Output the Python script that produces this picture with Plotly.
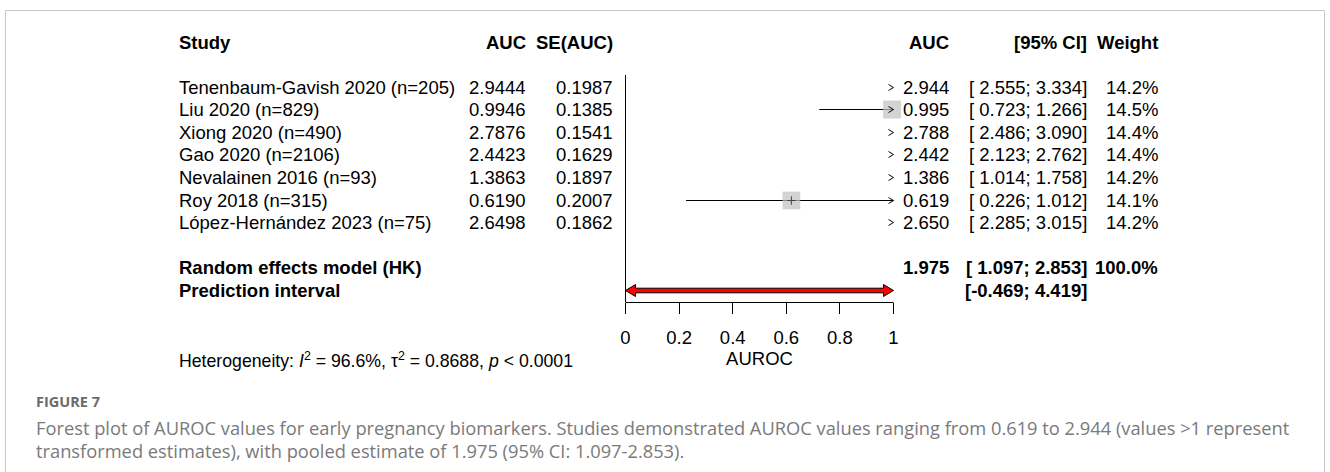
import math
import plotly.graph_objects as go

# ---------------- data ----------------
studies = ["Tenenbaum-Gavish 2020 (n=205)", "Liu 2020 (n=829)", "Xiong 2020 (n=490)",
           "Gao 2020 (n=2106)", "Nevalainen 2016 (n=93)", "Roy 2018 (n=315)",
           "López-Hernández 2023 (n=75)"]
auc = [2.9444, 0.9946, 2.7876, 2.4423, 1.3863, 0.6190, 2.6498]
se_auc = [0.1987, 0.1385, 0.1541, 0.1629, 0.1897, 0.2007, 0.1862]
ci_low = [2.555, 0.723, 2.486, 2.123, 1.014, 0.226, 2.285]
ci_high = [3.334, 1.266, 3.090, 2.762, 1.758, 1.012, 3.015]
weights = [14.2, 14.5, 14.4, 14.4, 14.2, 14.1, 14.2]
re_label = "Random effects model (HK)"
re_est, re_low, re_high, re_weight = 1.975, 1.097, 2.853, 100.0
pi_label = "Prediction interval"
pi_low, pi_high = -0.469, 4.419
x_ticks = [0, 0.2, 0.4, 0.6, 0.8, 1]
x_ticklabels = ["0", "0.2", "0.4", "0.6", "0.8", "1"]
x_title = "AUROC"
het_i2, het_tau2, het_p = "96.6%", "0.8688", "0.0001"
fig_label = "FIGURE 7"
caption_lines = [
    "Forest plot of AUROC values for early pregnancy biomarkers. Studies demonstrated AUROC values ranging from 0.619 to 2.944 (values >1 represent",
    "transformed estimates), with pooled estimate of 1.975 (95% CI: 1.097-2.853).",
]

# ---------------- layout constants (pixels) ----------------
W, H = 1330, 472
FONT = "Liberation Sans, Arial, sans-serif"
FS = 18.5
X0_PX, X1_PX = 625.5, 893.5      # pixel of value 0 and value 1
XMIN, XMAX = x_ticks[0], x_ticks[-1]
PAD = 0.02
UNIT = (X1_PX - X0_PX) / (XMAX - XMIN)
HEADER_Y = 42
ROW0_Y, ROW_DY = 87, 22.6
AXIS_Y = 302
COL_STUDY = 177
COL_AUC = 528
COL_SE = 615
COL_EST = 951
COL_CI = 1089
COL_W = 1160


def crisp(v):
    return math.floor(v) + 0.5


def clip(v):
    return min(max(v, XMIN), XMAX)


row_y = [ROW0_Y + i * ROW_DY for i in range(len(studies))]
re_y = ROW0_Y + (len(studies) + 1) * ROW_DY
pi_y = re_y + ROW_DY

fig = go.Figure()

# reference line at 0
fig.add_trace(go.Scatter(x=[0, 0], y=[ROW0_Y - 12, AXIS_Y], mode="lines",
                         line=dict(color="black", width=1), hoverinfo="skip"))
# axis line
fig.add_trace(go.Scatter(x=[XMIN, XMAX], y=[crisp(AXIS_Y), crisp(AXIS_Y)], mode="lines",
                         line=dict(color="black", width=1), hoverinfo="skip"))

# CI shafts
for lo, hi, y in zip(ci_low, ci_high, row_y):
    a, b = clip(lo), clip(hi)
    if b > a:
        fig.add_trace(go.Scatter(x=[a, b], y=[crisp(y), crisp(y)], mode="lines",
                                 line=dict(color="black", width=1), hoverinfo="skip"))

# squares (only inside the axis range)
maxw = max(weights)
SQ = 18
sq_x, sq_y, sq_s, in_x, in_y = [], [], [], [], []
for est, w, y in zip(auc, weights, row_y):
    if XMIN <= est <= XMAX:
        s = SQ * (w / maxw) ** 0.5
        sq_x.append(est); sq_y.append(crisp(y)); sq_s.append(s)
        if est < XMAX - (s / 2 + 4) / UNIT:
            in_x.append(est); in_y.append(crisp(y))
fig.add_trace(go.Scatter(x=sq_x, y=sq_y, mode="markers", cliponaxis=False,
                         marker=dict(symbol="square", size=sq_s, color="#c0c0c0",
                                     line=dict(width=0)), hoverinfo="skip"))
# inside mark of the square
fig.add_trace(go.Scatter(x=in_x, y=in_y, mode="markers", cliponaxis=False,
                         marker=dict(symbol="cross-thin", size=6,
                                     line=dict(color="#444444", width=1)), hoverinfo="skip"))

# arrowheads for clipped CIs
HL = 5 / UNIT
HH = 3
for lo, hi, y in zip(ci_low, ci_high, row_y):
    yc = crisp(y)
    if hi > XMAX:
        fig.add_trace(go.Scatter(x=[XMAX - HL, XMAX, XMAX - HL], y=[yc - HH, yc, yc + HH],
                                 mode="lines", line=dict(color="black", width=1),
                                 hoverinfo="skip"))
    if lo < XMIN:
        fig.add_trace(go.Scatter(x=[XMIN + HL, XMIN, XMIN + HL], y=[yc - HH, yc, yc + HH],
                                 mode="lines", line=dict(color="black", width=1),
                                 hoverinfo="skip"))

# prediction interval double arrow (red polygon)
a, b = clip(pi_low), clip(pi_high)
hl = 10 / UNIT
hh, sh = 6, 2.3
py0 = crisp(pi_y)
px = [a, a + hl, a + hl, b - hl, b - hl, b, b - hl, b - hl, a + hl, a + hl, a]
py = [py0, py0 - hh, py0 - sh, py0 - sh, py0 - hh, py0, py0 + hh, py0 + sh,
      py0 + sh, py0 + hh, py0]
fig.add_trace(go.Scatter(x=px, y=py, mode="lines", fill="toself", fillcolor="#ff0000",
                         line=dict(color="black", width=1), hoverinfo="skip"))

# ---------------- texts ----------------
ann = []


def txt(x, y, s, anchor="left", bold=False, size=FS, color="black", font=FONT):
    if bold:
        s = "<b>" + s + "</b>"
    ann.append(dict(x=x / W, y=y, xref="paper", yref="y", text=s, showarrow=False,
                    xanchor=anchor, yanchor="middle",
                    font=dict(family=font, size=size, color=color)))


def fmt_ci(lo, hi):
    def f(v):
        s = f"{v:.3f}"
        return s if v < 0 else "\u00a0" + s
    return f"[{f(lo)};{f(hi)}]"


txt(COL_STUDY, HEADER_Y, "Study", bold=True)
txt(COL_AUC, HEADER_Y, "AUC", "right", bold=True)
txt(COL_SE, HEADER_Y, "SE(AUC)", "right", bold=True)
txt(COL_EST, HEADER_Y, "AUC", "right", bold=True)
txt(COL_CI, HEADER_Y, "[95% CI]", "right", bold=True)
txt(COL_W, HEADER_Y, "Weight", "right", bold=True)

for s, a_, e, lo, hi, w, y in zip(studies, auc, se_auc, ci_low, ci_high, weights, row_y):
    txt(COL_STUDY, y, s)
    txt(COL_AUC, y, f"{a_:.4f}", "right")
    txt(COL_SE, y, f"{e:.4f}", "right")
    txt(COL_EST, y, f"{a_:.3f}", "right")
    txt(COL_CI, y, fmt_ci(lo, hi), "right")
    txt(COL_W, y, f"{w:.1f}%", "right")

txt(COL_STUDY, re_y, re_label, bold=True)
txt(COL_EST, re_y, f"{re_est:.3f}", "right", bold=True)
txt(COL_CI, re_y, fmt_ci(re_low, re_high), "right", bold=True)
txt(COL_W, re_y, f"{re_weight:.1f}%", "right", bold=True)
txt(COL_STUDY, pi_y, pi_label, bold=True)
txt(COL_CI, pi_y, fmt_ci(pi_low, pi_high), "right", bold=True)

txt(COL_STUDY, 360,
    f"Heterogeneity: <i>I</i><sup>2</sup> = {het_i2}, τ<sup>2</sup> = {het_tau2}, <i>p</i> &lt; {het_p}",
    size=17.7)

# caption
CAP_FONT = "Open Sans, sans-serif"
txt(34, 401, fig_label, bold=True, size=14.5, color="#6b6b6b", font=CAP_FONT)
for i, line in enumerate(caption_lines):
    txt(34, 427 + i * 23, line, size=18.3, color="#7a7a7a", font=CAP_FONT)

# border
shapes = [dict(type="rect", xref="paper", yref="paper",
               x0=5.5 / W, x1=1324.5 / W, y0=1 - 10.5 / H, y1=-0.2,
               line=dict(color="#c8c8d0", width=1), fillcolor="rgba(0,0,0,0)")]

fig.update_layout(
    width=W, height=H, margin=dict(l=0, r=0, t=0, b=0),
    paper_bgcolor="white", plot_bgcolor="rgba(0,0,0,0)",
    showlegend=False, annotations=ann, shapes=shapes,
    xaxis=dict(domain=[(X0_PX - PAD * UNIT) / W, (X1_PX + PAD * UNIT) / W],
               range=[XMIN - PAD, XMAX + PAD], anchor="free", position=1 - AXIS_Y / H,
               showline=False, showgrid=False, zeroline=False,
               tickmode="array", tickvals=x_ticks, ticktext=x_ticklabels,
               ticks="outside", ticklen=11, tickwidth=1, tickcolor="black",
               ticklabelstandoff=8,
               tickfont=dict(family=FONT, size=FS, color="black"),
               title=dict(text=x_title, font=dict(family=FONT, size=FS, color="black"),
                          standoff=2),
               fixedrange=True),
    yaxis=dict(domain=[0, 1], range=[H, 0], visible=False, fixedrange=True),
)

fig.write_html("out.html")
